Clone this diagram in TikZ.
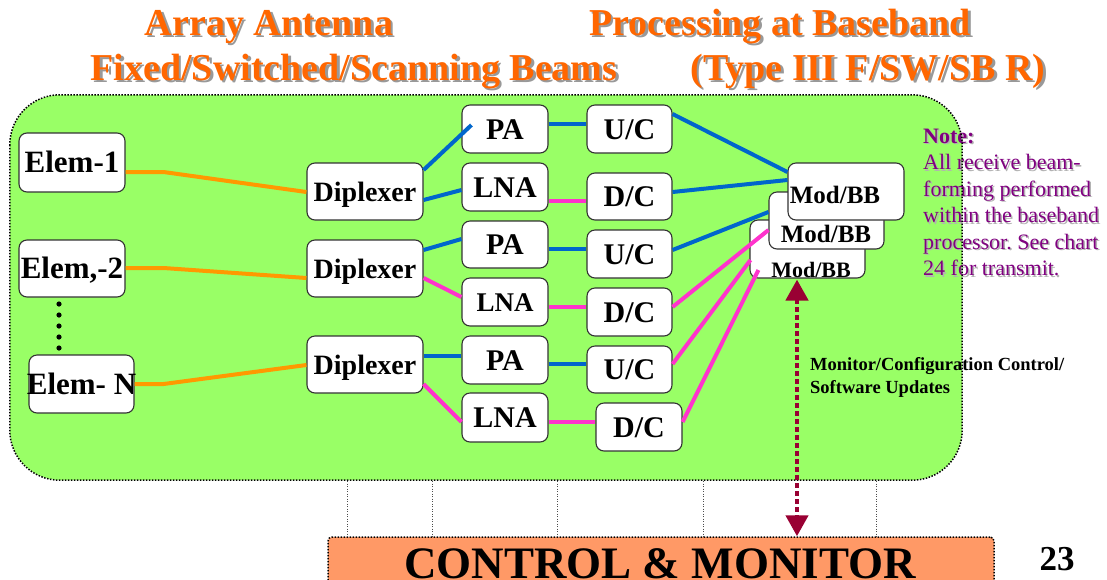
\documentclass[tikz,border=0pt]{standalone}
\usepackage{fontspec}
\setmainfont{Liberation Serif}
\usetikzlibrary{calc,arrows.meta}
\definecolor{gfill}{HTML}{99FF66}
\definecolor{ttl}{HTML}{FF6600}
\definecolor{lblue}{HTML}{0066CC}
\definecolor{lpink}{HTML}{FF33CC}
\definecolor{lorange}{HTML}{FF9900}
\definecolor{cmfill}{HTML}{FF9966}
\definecolor{notec}{HTML}{800080}
\definecolor{arrc}{HTML}{990033}
\newcommand{\myfs}[1]{\fontsize{#1}{#1}\selectfont}
\frenchspacing
\begin{document}
\begin{tikzpicture}[x=1pt,y=-1pt,
  box/.style={draw=black!80, line width=1.1pt, fill=white, rounded corners=8pt,
    inner sep=0pt, text height=20pt, text depth=0pt, font=\myfs{30}\bfseries},
  elembox/.style={box, minimum width=106pt, minimum height=58pt, font=\myfs{31}\bfseries},
  dipbox/.style={box, minimum width=116pt, minimum height=57pt, text height=19pt, font=\myfs{28}\bfseries},
  ampbox/.style={box, minimum width=86pt, minimum height=48pt},
  cvbox/.style={box, minimum width=85pt, minimum height=48pt},
  mbbox/.style={box, minimum width=115pt, minimum height=57pt},
  mbtext/.style={anchor=base, inner sep=0pt, font=\myfs{25}\bfseries},
  ttltext/.style={anchor=base, inner sep=0pt, text=ttl, font=\myfs{38}\bfseries},
  ttlshadow/.style={anchor=base, inner sep=0pt, text=black!40, font=\myfs{38}\bfseries},
  ol/.style={draw=lorange, line width=4pt},
  bl/.style={draw=lblue, line width=4pt},
  pk/.style={draw=lpink, line width=4pt},
  dotborder/.style={draw=black, line width=1.5pt, dash pattern=on 1.5pt off 1.5pt},
  thindot/.style={draw=black!70, line width=0.7pt, dash pattern=on 1pt off 1.5pt},
  ctrlarrow/.style={draw=arrc, line width=4.5pt, dash pattern=on 5pt off 3pt,
    {Triangle[width=22pt,length=21pt]}-{Triangle[width=22pt,length=21pt]}}
]
\useasboundingbox (0,0) rectangle (1107,579);

% titles
\node[ttlshadow] (t1s) at (271.5,37.5) {Array Antenna};
\node[ttltext] (t1) at (269,35) {Array Antenna};
\node[ttlshadow] (t2s) at (356.5,82.5) {Fixed/Switched/Scanning Beams};
\node[ttltext] (t2) at (354,80) {Fixed/Switched/Scanning Beams};
\node[ttlshadow] (t3s) at (782.5,37.5) {Processing at Baseband};
\node[ttltext] (t3) at (780,35) {Processing at Baseband};
\node[ttlshadow] (t4s) at (870.5,82.5) {(Type III F/SW/SB R)};
\node[ttltext] (t4) at (868,80) {(Type III F/SW/SB R)};

% green panel fill
\node[fill=gfill, draw=none, rounded corners=50pt, inner sep=0pt,
  minimum width=952pt, minimum height=385pt] (gb) at (486,287.5) {};

% control & monitor
\node[fill=cmfill, dotborder, rounded corners=4pt, inner sep=0pt,
  minimum width=666pt, minimum height=80pt] (cm) at (661,577) {};
\node[anchor=base, inner sep=0pt, font=\myfs{45}\bfseries] (cmt) at (660,578) {CONTROL \& MONITOR};
\node[anchor=base, inner sep=0pt, font=\myfs{35}\bfseries] (pg) at (1057,570) {23};

% thin dotted links between panel and control box
\foreach \x in {347,432,557,703,876} \draw[thindot] (\x,481) -- (\x,537);

% elements
\node[elembox, minimum height=59pt] (e1) at (72,162.5) {\makebox[0pt]{Elem-1}};
\node[elembox, minimum height=57pt] (e2) at (72,268.5) {\makebox[0pt]{Elem,-2}};
\node[elembox, minimum width=105pt] (eN) at (81.5,384) {\makebox[0pt]{Elem- N}};
\foreach \i in {0,...,4} \fill (59,{304+\i*11}) circle (2.6pt);

% diplexers
\node[dipbox] (d1) at (365,191.5) {\makebox[0pt]{Diplexer}};
\node[dipbox] (d2) at (365,268.5) {\makebox[0pt]{Diplexer}};
\node[dipbox] (d3) at (365,364.5) {\makebox[0pt]{Diplexer}};

% amplifiers
\node[ampbox] (pa1) at (505,129) {\makebox[0pt]{PA}};
\node[ampbox] (lna1) at (505,187) {\makebox[0pt]{LNA}};
\node[ampbox, minimum height=47pt] (pa2) at (505,244.5) {\makebox[0pt]{PA}};
\node[ampbox, text height=18pt, font=\myfs{27}\bfseries] (lna2) at (505,302) {\makebox[0pt]{LNA}};
\node[ampbox] (pa3) at (505,360) {\makebox[0pt]{PA}};
\node[ampbox, minimum height=49pt] (lna3) at (505,417.5) {\makebox[0pt]{LNA}};

% converters
\node[cvbox] (uc1) at (629.5,129) {\makebox[0pt]{U/C}};
\node[cvbox, minimum height=47pt] (dc1) at (629.5,196.5) {\makebox[0pt]{D/C}};
\node[cvbox] (uc2) at (629.5,254) {\makebox[0pt]{U/C}};
\node[cvbox] (dc2) at (629.5,312) {\makebox[0pt]{D/C}};
\node[cvbox, minimum height=47pt] (uc3) at (629.5,369.5) {\makebox[0pt]{U/C}};
\node[cvbox, minimum width=86pt] (dc3) at (639,427) {\makebox[0pt]{D/C}};

% Mod/BB stack
\node[mbbox, minimum height=58pt] (mb3) at (807.5,249) {};
\node[mbtext, font=\myfs{22}\bfseries] (mb3t) at (811,277) {Mod/BB};
\node[mbbox] (mb2) at (826.5,220.5) {};
\node[mbtext] (mb2t) at (826,242) {Mod/BB};
\node[mbbox, minimum width=116pt] (mb1) at (846,191.5) {};
\node[mbtext] (mb1t) at (835,203) {Mod/BB};

% element -> diplexer
\draw[ol] ($(e1.east)+(0,9.5)$) -- ++(38,0) -- ($(d1.west)+(0,0.5)$);
\draw[ol] ($(e2.east)+(0,-0.5)$) -- ++(38,0) -- ($(d2.west)+(0,9.5)$);
\draw[ol] (eN.east) -- ++(29,0) -- ($(d3.west)+(0,0.5)$);

% diplexer -> amplifiers
\draw[bl] ($(d1.east)+(0,-21.5)$) -- ($(pa1.west)+(10,-4)$);
\draw[bl] ($(d1.east)+(0,8.5)$) -- ($(lna1.west)+(0,3)$);
\draw[bl] ($(d2.east)+(0,-18.5)$) -- ($(pa2.west)+(0,-5.5)$);
\draw[pk] ($(d2.east)+(0,9.5)$) -- ($(lna2.west)+(0,-5)$);
\draw[bl] ($(d3.east)+(0,-8.5)$) -- ($(pa3.west)+(0,-4)$);
\draw[pk] ($(d3.east)+(0,19.5)$) -- ($(lna3.west)+(0,4.5)$);

% amplifiers -> converters
\draw[bl] ($(pa1.east)+(0,-5)$) -- ($(uc1.west)+(0,-5)$);
\draw[pk] ($(lna1.east)+(0,14)$) -- ($(dc1.west)+(0,4.5)$);
\draw[bl] ($(pa2.east)+(0,4.5)$) -- ($(uc2.west)+(0,-5)$);
\draw[pk] ($(lna2.east)+(0,5)$) -- ($(dc2.west)+(0,-5)$);
\draw[bl] ($(pa3.east)+(0,4)$) -- ($(uc3.west)+(0,-5.5)$);
\draw[pk] ($(lna3.east)+(0,4.5)$) -- ($(dc3.west)+(0,-5)$);

% converters -> Mod/BB
\draw[bl] ($(uc1.east)+(0,-15)$) -- ($(mb1.west)+(0,-19.5)$);
\draw[bl] ($(dc1.east)+(0,-4.5)$) -- ($(mb1.west)+(0,-11.5)$);
\draw[bl] ($(uc2.east)+(0,-4)$) -- ($(mb2.west)+(0,-8.5)$);
\draw[pk] ($(dc2.east)+(0,-5)$) -- ($(mb2.west)+(0,9.5)$);
\draw[pk] ($(uc3.east)+(0,-5.5)$) -- ($(mb3.west)+(1,11)$);
\draw[pk] ($(dc3.east)+(0,-5)$) -- ($(mb3.west)+(9,21)$);

% note
\node[anchor=north west, align=left, inner sep=0pt, text=black!30,
  font=\fontsize{22}{26.5}\selectfont] (notes) at (924.5,129.9)
  {\textbf{Note:}\\All receive beam-\\forming performed\\within the baseband\\processor. See chart\\24 for transmit.};
\node[anchor=north west, align=left, inner sep=0pt, text=notec,
  font=\fontsize{22}{26.5}\selectfont] (note) at (923,128.4)
  {\textbf{Note:}\\All receive beam-\\forming performed\\within the baseband\\processor. See chart\\24 for transmit.};

% monitor label
\node[anchor=north west, align=left, inner sep=0pt,
  font=\bfseries\fontsize{18.5}{22.5}\selectfont] (mon) at (810,357.5)
  {Monitor/Configuration Control/\\Software Updates};

% panel border
\draw[dotborder, rounded corners=50pt] (gb.north west) rectangle (gb.south east);

% control arrow
\coordinate (arrtop) at ($(mb3.south)+(-10.5,1)$);
\draw[ctrlarrow] (arrtop) -- (arrtop |- cm.north);
\end{tikzpicture}
\end{document}
